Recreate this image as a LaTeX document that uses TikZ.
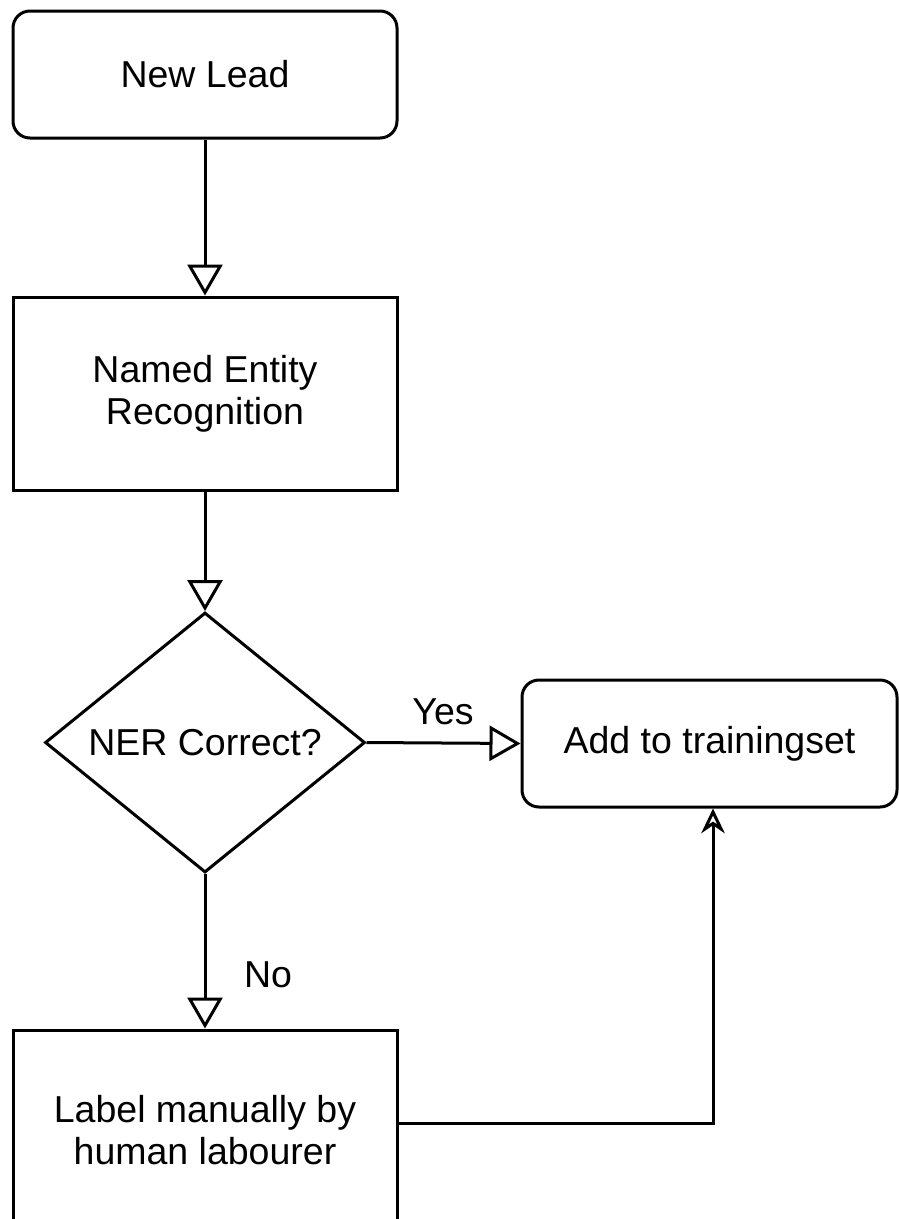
\documentclass[tikz,border=0pt]{standalone}
\usepackage{fontspec}
\setmainfont{Liberation Sans}
\usetikzlibrary{shapes.geometric,arrows.meta}
\begin{document}
\begin{tikzpicture}[x=1pt,y=-1pt,
  every node/.style={font=\fontsize{37.5}{42}\selectfont, align=center, inner sep=0pt},
  box/.style={draw, line width=3pt, minimum width=384pt},
  rbox/.style={box, rounded corners=17pt},
  decision/.style={draw, line width=3pt, diamond, minimum width=320pt, minimum height=255pt},
  flow/.style={line width=3pt, -{Triangle[open, length=31pt, width=35pt, line width=3pt]}},
  back/.style={line width=3pt, line join=miter, -{Stealth[open, scale length=1.5, scale width=1.9]}},
  lbl/.style={font=\fontsize{37.5}{42}\selectfont}]
  \clip (0,0) rectangle (899,1219);
  % process steps
  \node[rbox, minimum height=127pt] (lead) at (205,74.5) {New Lead};
  \node[box, minimum height=193pt] (ner) at (205,393.5) {Named Entity\\Recognition};
  \node[decision] (dec) at (205,742.5) {NER Correct?};
  \node[rbox, minimum width=375pt, minimum height=127pt] (add) at (709.5,743.5) {Add to trainingset};
  \node[box, minimum height=200pt] (lab) at (205,1130) {Label manually by\\human labourer};
  % connectors
  \draw[flow] (lead.south) -- (ner.north);
  \draw[flow] (ner.south) -- (dec.north);
  \draw[flow] (dec.east) -- (add.west);
  \draw[flow] (dec.south) -- (lab.north);
  \coordinate (turn) at (713,1123);
  \draw[back] (lab.east |- turn) -- (turn) -- (turn |- add.south);
  % branch labels
  \node[lbl] (yes) at (443,712) {Yes};
  \node[lbl] (no) at (268,975) {No};
\end{tikzpicture}
\end{document}
